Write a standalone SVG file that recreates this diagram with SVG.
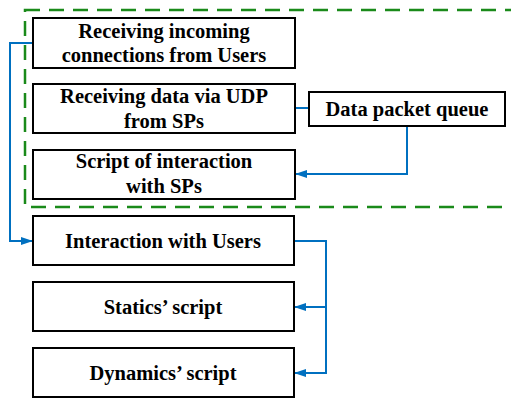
<svg xmlns="http://www.w3.org/2000/svg" width="511" height="398" viewBox="0 0 511 398">
<style>
.box{fill:#fff;stroke:#000;stroke-width:2}
.t{font-family:"Liberation Serif","Times New Roman",serif;font-weight:bold;font-size:20.5px;fill:#000;text-anchor:middle}
.c{fill:none;stroke:#0070C0;stroke-width:2}
</style>
<defs>
<marker id="ah" markerWidth="12" markerHeight="8" refX="11" refY="4" orient="auto" markerUnits="userSpaceOnUse">
<path d="M0,0 L12,4 L0,8 Z" fill="#0070C0"/>
</marker>
</defs>
<rect x="25" y="10" width="500" height="197" fill="none" stroke="#1a8a1a" stroke-width="2.5" stroke-dasharray="15,9"/>
<g id="connectors">
<path class="c" d="M33,43 H10 V241 H32" marker-end="url(#ah)"/>
<path class="c" d="M295,108 H309"/>
<path class="c" d="M407,126 V174 H296" marker-end="url(#ah)"/>
<path class="c" d="M294,241 H326 V373 H295" marker-end="url(#ah)"/>
<path class="c" d="M326,307 H295" marker-end="url(#ah)"/>
</g>
<g id="n1"><rect class="box" x="33" y="18" width="262" height="50"/><text class="t" x="164" y="38">Receiving incoming</text><text class="t" x="164" y="62">connections from Users</text></g>
<g id="n2"><rect class="box" x="33" y="84" width="262" height="49"/><text class="t" x="164" y="103">Receiving data via UDP</text><text class="t" x="164" y="128">from SPs</text></g>
<g id="n3"><rect class="box" x="33" y="150" width="262" height="49"/><text class="t" x="164" y="168">Script of interaction</text><text class="t" x="164" y="193">with SPs</text></g>
<g id="n4"><rect class="box" x="33" y="216" width="261" height="49"/><text class="t" x="163" y="248">Interaction with Users</text></g>
<g id="n5"><rect class="box" x="33" y="282" width="261" height="49"/><text class="t" x="163" y="314">Statics’ script</text></g>
<g id="n6"><rect class="box" x="33" y="348" width="261" height="49"/><text class="t" x="163" y="380">Dynamics’ script</text></g>
<g id="n7"><rect class="box" x="309" y="92" width="196" height="34"/><text class="t" x="407" y="116">Data packet queue</text></g>
</svg>
